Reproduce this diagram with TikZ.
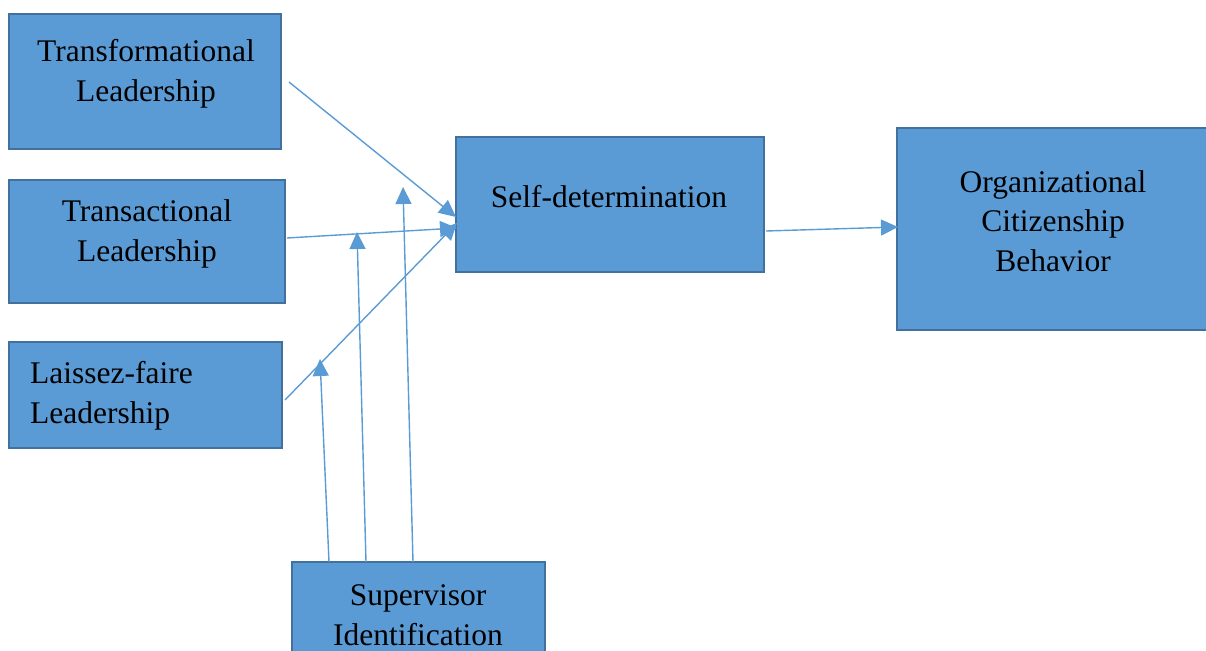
\documentclass[tikz,border=0pt]{standalone}
\usepackage{fontspec}
\setmainfont{Liberation Serif}
\usetikzlibrary{arrows.meta}
\definecolor{boxfill}{HTML}{5B9BD5}
\definecolor{boxline}{HTML}{41719C}
\definecolor{arr}{HTML}{5B9BD5}
\tikzset{
  box/.style={draw=boxline, line width=2.5pt, fill=boxfill, inner sep=0pt},
  lbl/.style={inner sep=0pt, align=center, font=\fontsize{31.5}{39.5}\selectfont},
  conn/.style={draw=arr, line width=1.4pt, -{Triangle[length=17pt,width=16pt]}}
}
\begin{document}
\begin{tikzpicture}[x=1pt,y=-1pt]
\useasboundingbox (0,0) rectangle (1206,650);
\clip (0,0) rectangle (1206,650);
% boxes
\node[box, minimum width=272pt, minimum height=135pt] (tl) at (145,81.5) {};
\node[box, minimum width=276pt, minimum height=123pt] (tr) at (147,241.5) {};
\node[box, minimum width=273pt, minimum height=106pt] (lf) at (145.5,395) {};
\node[box, minimum width=308pt, minimum height=135pt] (sd) at (610,204.5) {};
\node[box, minimum width=314pt, minimum height=202pt] (ocb) at (1054,229) {};
\node[box, minimum width=253pt, minimum height=110pt] (si) at (418.5,617) {};
% texts
\node[lbl] (tlt) at (146,74) {Transformational\\Leadership};
\node[lbl] (trt) at (147,234) {Transactional\\Leadership};
\node[lbl, align=left, anchor=west] (lft) at (30,396) {Laissez-faire\\Leadership};
\node[lbl] (sdt) at (609,197) {Self-determination};
\node[lbl] (ocbt) at (1053,221) {Organizational\\Citizenship\\Behavior};
\node[lbl] (sit) at (418,615) {Supervisor\\Identification};
% connector end points
\coordinate (a1) at (289,82);
\coordinate (b1) at (456,217);
\coordinate (a2) at (287,238);
\coordinate (b2) at (457,228);
\coordinate (a3) at (285,400);
\coordinate (b3) at (457,223);
\coordinate (a4) at (766,231);
\coordinate (b4) at (898,227);
\coordinate (s1) at (329,562);
\coordinate (t1) at (320,359);
\coordinate (s2) at (366,562);
\coordinate (t2) at (357,232);
\coordinate (s3) at (413,562);
\coordinate (t3) at (403,187);
% connectors
\draw[conn] (a1) -- (b1);
\draw[conn] (a2) -- (b2);
\draw[conn] (a3) -- (b3);
\draw[conn] (a4) -- (b4);
\draw[conn] (s1) -- (t1);
\draw[conn] (s2) -- (t2);
\draw[conn] (s3) -- (t3);
\end{tikzpicture}
\end{document}
